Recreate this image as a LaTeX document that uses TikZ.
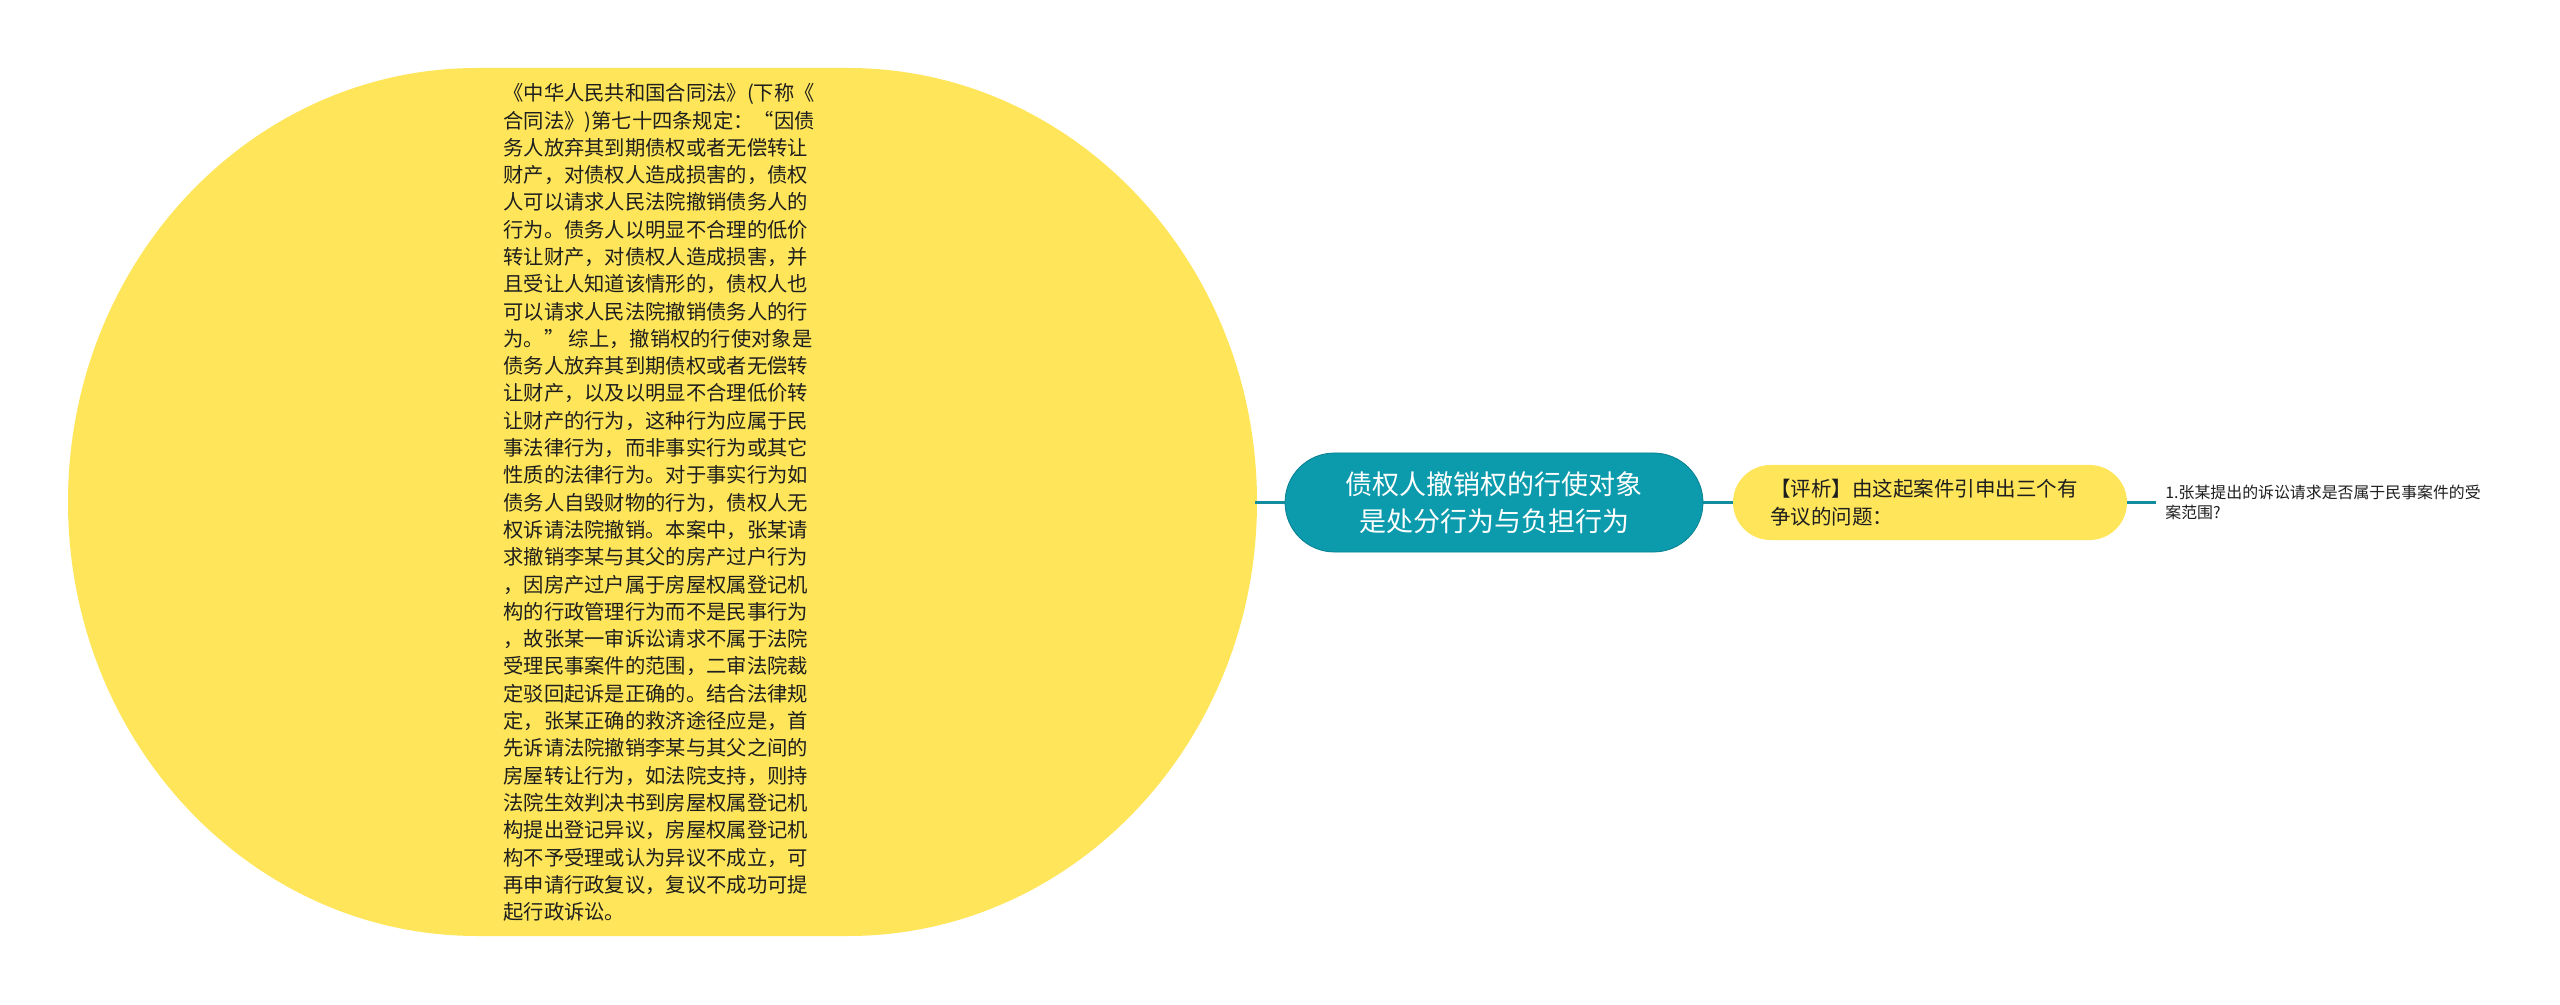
\documentclass[tikz,border=0pt]{standalone}
\usepackage{fontspec}
\setmainfont{Noto Sans CJK SC}
\definecolor{ybg}{RGB}{254,229,90}
\definecolor{tealfill}{RGB}{12,155,172}
\definecolor{tealedge}{RGB}{8,128,145}
\definecolor{tealline}{RGB}{20,140,160}
\definecolor{txt}{RGB}{30,30,30}
\begin{document}
\begin{tikzpicture}[x=0.5pt,y=-0.5pt,
  conn/.style={draw=tealline, line width=1.35pt},
  topicbox/.style={fill=tealfill, draw=tealedge, line width=0.4pt, text=white,
    minimum width=209pt, minimum height=49.5pt, rounded corners=24.75pt,
    align=center, inner sep=0pt, font=\fontsize{13.5pt}{18.5pt}\selectfont},
  subbox/.style={fill=ybg, text=txt, minimum width=197pt, minimum height=37.5pt,
    rounded corners=18.75pt, align=left, text width=160pt, inner xsep=18.5pt, inner ysep=0pt,
    font=\fontsize{10.25pt}{14pt}\selectfont},
  leafbox/.style={text=txt, align=left, inner xsep=4.5pt, inner ysep=0pt,
    font=\fontsize{7.95pt}{10pt}\selectfont},
  lawtext/.style={text=txt, align=left, inner sep=0pt,
    font=\fontsize{10.15pt}{13.65pt}\selectfont}]
\useasboundingbox (0,0) rectangle (2560,1005);
% big yellow shape
\fill[ybg] (477,68) -- (848,68)
  arc[start angle=-90,end angle=90,x radius=409,y radius=434] -- (477,936)
  arc[start angle=90,end angle=270,x radius=409,y radius=434] -- cycle;
\node[lawtext, anchor=west] (law) at (503,502.5) {%
《中华人民共和国合同法》(下称《\\
合同法》)第七十四条规定：“因债\\
务人放弃其到期债权或者无偿转让\\
财产，对债权人造成损害的，债权\\
人可以请求人民法院撤销债务人的\\
行为。债务人以明显不合理的低价\\
转让财产，对债权人造成损害，并\\
且受让人知道该情形的，债权人也\\
可以请求人民法院撤销债务人的行\\
为。” 综上，撤销权的行使对象是\\
债务人放弃其到期债权或者无偿转\\
让财产，以及以明显不合理低价转\\
让财产的行为，这种行为应属于民\\
事法律行为，而非事实行为或其它\\
性质的法律行为。对于事实行为如\\
债务人自毁财物的行为，债权人无\\
权诉请法院撤销。本案中，张某请\\
求撤销李某与其父的房产过户行为\\
，因房产过户属于房屋权属登记机\\
构的行政管理行为而不是民事行为\\
，故张某一审诉讼请求不属于法院\\
受理民事案件的范围，二审法院裁\\
定驳回起诉是正确的。结合法律规\\
定，张某正确的救济途径应是，首\\
先诉请法院撤销李某与其父之间的\\
房屋转让行为，如法院支持，则持\\
法院生效判决书到房屋权属登记机\\
构提出登记异议，房屋权属登记机\\
构不予受理或认为异议不成立，可\\
再申请行政复议，复议不成功可提\\
起行政诉讼。};
\coordinate (lawR) at (1255,502.5);
\node[topicbox] (topic) at (1494,502.5) {债权人撤销权的行使对象\\是处分行为与负担行为};
\node[subbox] (sub) at (1930,502.5) {【评析】由这起案件引申出三个有\\争议的问题：};
\node[leafbox, anchor=west] (leaf) at (2156,502.5) {1.张某提出的诉讼请求是否属于民事案件的受\\案范围?};
\draw[conn] (lawR) -- (topic.west);
\draw[conn] (topic.east) -- (sub.west);
\draw[conn] (sub.east) -- (leaf.west);
\end{tikzpicture}
\end{document}
